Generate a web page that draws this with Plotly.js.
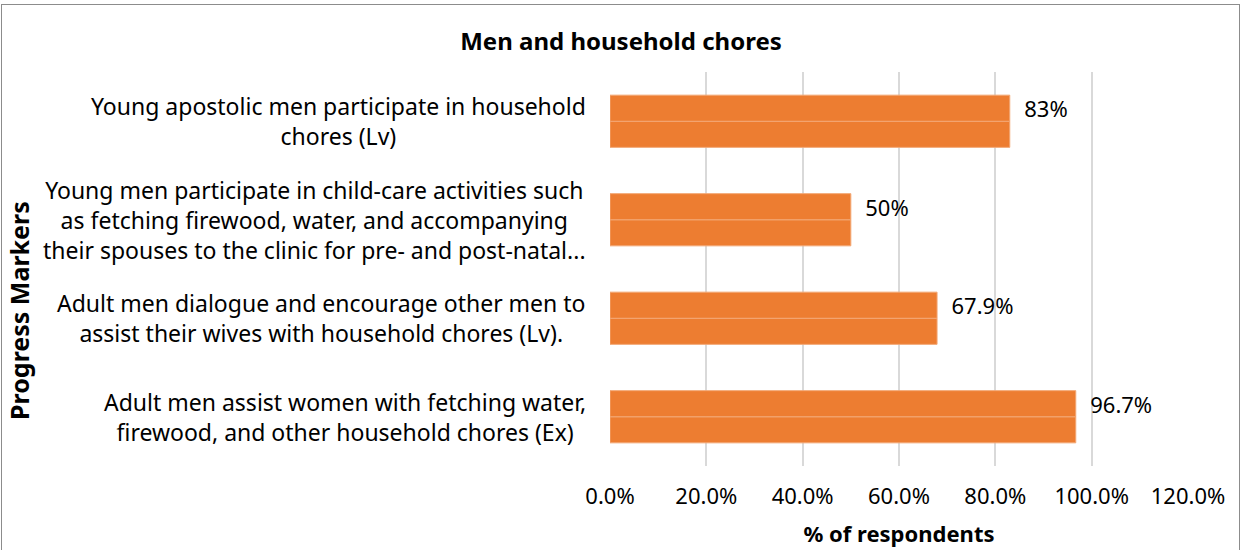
<!DOCTYPE html>
<html>
<head>
<meta charset="utf-8">
<script src="https://cdn.plot.ly/plotly-3.0.1.min.js"></script>
<style>
  html, body { margin: 0; padding: 0; background: #fff; }
  #chart { position: absolute; left: 0; top: 0; width: 1242px; height: 550px; }
  #frame { position: absolute; left: 1px; top: 4px; width: 1237px; height: 600px; border: 1px solid #8c8c8c; pointer-events: none; }
</style>
</head>
<body>
<div id="chart"></div>
<div id="frame"></div>
<script>
const categories = [
  "Young apostolic men participate in household<br>chores (Lv)",
  "Young men participate in child-care activities such<br>as fetching firewood, water, and accompanying<br>their spouses to the clinic for pre- and post-natal...",
  "Adult men dialogue and encourage other men to<br>assist their wives with household chores (Lv).",
  "Adult men assist women with fetching water,<br>firewood, and other household chores (Ex)"
];
const values = [83, 50, 67.9, 96.7];
const xTicks = [0, 20, 40, 60, 80, 100, 120];
const xTickLabels = ["0.0%", "20.0%", "40.0%", "60.0%", "80.0%", "100.0%", "120.0%"];
const chartTitle = "Men and household chores";
const xTitle = "% of respondents";
const yTitle = "Progress Markers";

const FONT = "Noto Sans, Open Sans, sans-serif";
const ORANGE = "#ED7D31";

const barBottom = {
  type: "bar", orientation: "h", x: values, y: categories,
  marker: { color: ORANGE, line: { color: "#F3A774", width: 1 } },
  hoverinfo: "skip", showlegend: false
};
const barTop = {
  type: "bar", orientation: "h", x: values, y: categories,
  marker: { color: ORANGE, line: { color: "#F3A774", width: 1 } },
  text: values.map(v => "\u00A0\u00A0" + v + "%"),
  texttemplate: "%{text}",
  textposition: "outside",
  constraintext: "none",
  textfont: { family: FONT, size: 22, color: "#000" },
  cliponaxis: false,
  hoverinfo: "skip", showlegend: false
};

const annotations = categories.map(c => ({
  x: 0, xref: "paper", xanchor: "right", xshift: -22,
  y: c, yref: "y", yanchor: "middle",
  text: c, align: "center", showarrow: false,
  font: { family: FONT, size: 23, color: "#000" }
}));
annotations.push({
  x: (19 - 610) / 578, xref: "paper", xanchor: "center",
  y: (466 - 311) / 394, yref: "paper", yanchor: "middle",
  text: "<b>" + yTitle + "</b>", textangle: -90, showarrow: false,
  font: { family: FONT, size: 25, color: "#000" }
});

const layout = {
  width: 1242, height: 550,
  margin: { l: 610, r: 54, t: 72, b: 84 },
  paper_bgcolor: "rgba(0,0,0,0)", plot_bgcolor: "#fff",
  font: { family: FONT, size: 22, color: "#000" },
  title: {
    text: "<b>" + chartTitle + "</b>",
    x: 0.5, xref: "container", y: 1 - 42 / 550, yref: "container", yanchor: "middle",
    font: { family: FONT, size: 24, color: "#000" }
  },
  barmode: "group", bargap: 0.47, bargroupgap: 0,
  xaxis: {
    range: [0, 120], tickvals: xTicks, ticktext: xTickLabels,
    showgrid: true, gridcolor: "#d9d9d9", gridwidth: 2,
    zeroline: false, showline: false, ticks: "",
    ticklabelstandoff: 15,
    tickfont: { family: FONT, size: 22, color: "#000" },
    title: { text: "<b>" + xTitle + "</b>", standoff: 17, font: { family: FONT, size: 22, color: "#000" } },
    fixedrange: true
  },
  yaxis: {
    categoryorder: "array", categoryarray: categories.slice().reverse(),
    showticklabels: false, ticks: "", showgrid: false, zeroline: false, showline: false,
    fixedrange: true
  },
  annotations: annotations
};

Plotly.newPlot("chart", [barBottom, barTop], layout, { displayModeBar: false, staticPlot: true });
</script>
</body>
</html>
